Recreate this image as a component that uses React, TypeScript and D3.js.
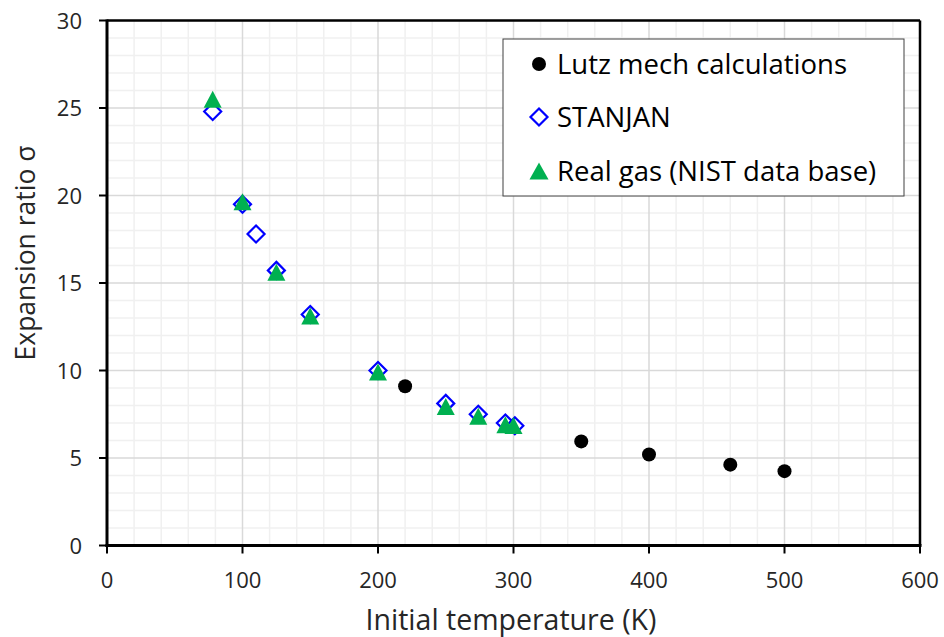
import React from "react";
import * as d3 from "d3";

const lutzT = [220, 350, 400, 460, 500];
const lutzSigma = [9.1, 5.95, 5.2, 4.62, 4.25];

const stanjanT = [78, 100, 110, 125, 150, 200, 250, 274, 294, 301];
const stanjanSigma = [24.8, 19.5, 17.8, 15.72, 13.2, 10.0, 8.12, 7.5, 7.0, 6.84];

const realT = [78, 100, 125, 150, 200, 250, 274, 294, 300];
const realSigma = [25.5, 19.65, 15.62, 13.12, 9.92, 7.95, 7.38, 6.9, 6.86];

const xTicks = [0, 100, 200, 300, 400, 500, 600];
const yTicks = [0, 5, 10, 15, 20, 25, 30];

const legendLabels = ["Lutz mech calculations", "STANJAN", "Real gas (NIST data base)"];

const W = 944;
const H = 637;
const FONT = "'Open Sans', 'DejaVu Sans', sans-serif";

export default function App() {
  const x = d3.scaleLinear().domain([0, 600]).range([107, 920]);
  const y = d3.scaleLinear().domain([0, 30]).range([545.5, 20.5]);

  const minorX = d3.range(0, 601, 20).filter((v) => v % 100 !== 0);
  const minorY = d3.range(0, 31, 1).filter((v) => v % 5 !== 0);

  const diamond = (cx: number, cy: number, r = 8.5) =>
    `M${cx},${cy - r}L${cx + r},${cy}L${cx},${cy + r}L${cx - r},${cy}Z`;
  const triangle = (cx: number, cy: number, w = 18, h = 17) =>
    `M${cx},${cy - h / 2}L${cx + w / 2},${cy + h / 2}L${cx - w / 2},${cy + h / 2}Z`;

  const [x0, x1] = x.range();
  const [y0, y1] = y.range();

  const legX = 503, legY = 39, legW = 401, legH = 157;
  const rowY = [64, 117, 171];

  return (
    <svg width={W} height={H} style={{ position: "absolute", left: 0, top: 0, background: "#fff" }}>
      <rect x={0} y={0} width={W} height={H} fill="#fff" />
      {/* minor grid */}
      {minorX.map((v) => (
        <line key={"mx" + v} x1={x(v)} x2={x(v)} y1={y1} y2={y0} stroke="#f0f0f0" strokeWidth={1.5} />
      ))}
      {minorY.map((v) => (
        <line key={"my" + v} x1={x0} x2={x1} y1={y(v)} y2={y(v)} stroke="#f0f0f0" strokeWidth={1.5} />
      ))}
      {/* major grid */}
      {xTicks.map((v) => (
        <line key={"gx" + v} x1={x(v)} x2={x(v)} y1={y1} y2={y0} stroke="#d9d9d9" strokeWidth={1.5} />
      ))}
      {yTicks.map((v) => (
        <line key={"gy" + v} x1={x0} x2={x1} y1={y(v)} y2={y(v)} stroke="#d9d9d9" strokeWidth={1.5} />
      ))}
      {/* frame */}
      <line x1={x0} x2={x1} y1={y1} y2={y1} stroke="#000" strokeWidth={2.5} />
      <line x1={x1} x2={x1} y1={y1} y2={y0} stroke="#000" strokeWidth={2.5} />
      {/* axes */}
      <line x1={x0} x2={x0} y1={y1 - 1} y2={y0 + 1.5} stroke="#000" strokeWidth={3} />
      <line x1={x0 - 1.5} x2={x1 + 1.5} y1={y0} y2={y0} stroke="#000" strokeWidth={3} />
      {xTicks.map((v) => (
        <g key={"xt" + v}>
          <line x1={x(v)} x2={x(v)} y1={y0} y2={y0 + 8} stroke="#000" strokeWidth={2} />
          <text x={x(v)} y={588} textAnchor="middle" fontFamily={FONT} fontSize={22} fill="#262626">
            {v}
          </text>
        </g>
      ))}
      {yTicks.map((v) => (
        <g key={"yt" + v}>
          <line x1={x0 - 8} x2={x0} y1={y(v)} y2={y(v)} stroke="#000" strokeWidth={2} />
          <text x={82} y={y(v) + 8} textAnchor="end" fontFamily={FONT} fontSize={22} fill="#262626">
            {v}
          </text>
        </g>
      ))}
      {/* axis titles */}
      <text x={511} y={630} textAnchor="middle" fontFamily={FONT} fontSize={28.5} fill="#262626">
        Initial temperature (K)
      </text>
      <text
        transform={`translate(35, 253) rotate(-90)`}
        textAnchor="middle"
        fontFamily={FONT}
        fontSize={26.5}
        fill="#262626"
      >
        Expansion ratio σ
      </text>
      {/* series */}
      {lutzT.map((t, i) => (
        <circle key={"l" + i} cx={x(t)} cy={y(lutzSigma[i])} r={7} fill="#000" />
      ))}
      {stanjanT.map((t, i) => (
        <path key={"s" + i} d={diamond(x(t), y(stanjanSigma[i]))} fill="#fff" stroke="#0000ff" strokeWidth={2.2} />
      ))}
      {realT.map((t, i) => (
        <path key={"r" + i} d={triangle(x(t), y(realSigma[i]))} fill="#00b050" />
      ))}
      {/* legend */}
      <rect x={legX} y={legY} width={legW} height={legH} fill="#fff" stroke="#404040" strokeWidth={1} />
      <circle cx={539} cy={rowY[0]} r={7} fill="#000" />
      <path d={diamond(539, rowY[1])} fill="#fff" stroke="#0000ff" strokeWidth={2.2} />
      <path d={triangle(539, rowY[2], 19, 17)} fill="#00b050" />
      {legendLabels.map((s, i) => (
        <text key={"lg" + i} x={557} y={rowY[i] + 9.5} fontFamily={FONT} fontSize={27.5} fill="#000">
          {s}
        </text>
      ))}
    </svg>
  );
}
